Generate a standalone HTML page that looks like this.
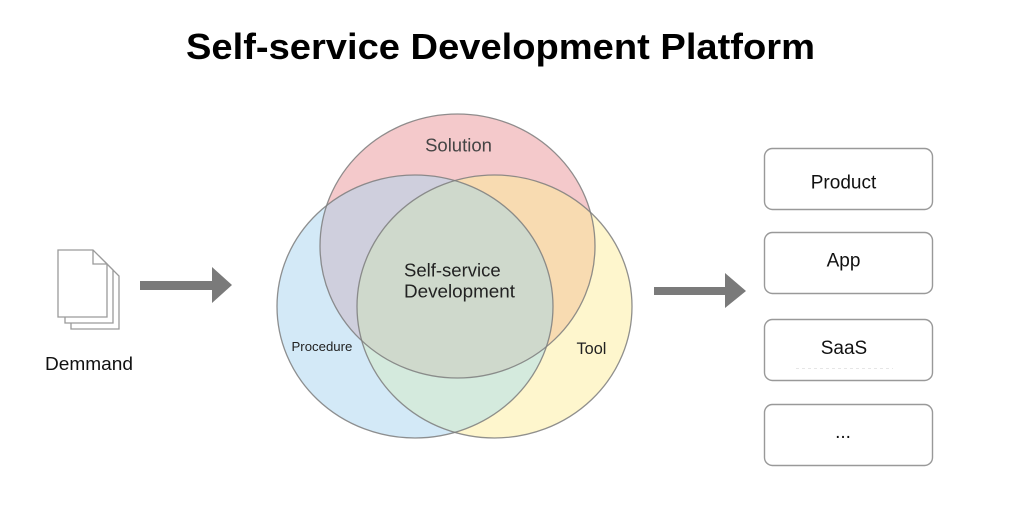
<!DOCTYPE html>
<html>
<head>
<meta charset="utf-8">
<style>
html,body{margin:0;padding:0;background:#fff;}
svg{display:block;}
text{font-family:"Liberation Sans",Arial,sans-serif;}
</style>
</head>
<body>
<svg width="1024" height="526" viewBox="0 0 1024 526" xmlns="http://www.w3.org/2000/svg">
<rect width="1024" height="526" fill="#fff"/>
<defs>
<clipPath id="cA"><ellipse cx="457.5" cy="246" rx="137.5" ry="132"/></clipPath>
<clipPath id="cB"><ellipse cx="415" cy="306.5" rx="138" ry="131.5"/></clipPath>
<clipPath id="cC"><ellipse cx="494.5" cy="306.5" rx="137.5" ry="131.5"/></clipPath>
</defs>

<!-- Title -->
<text x="500.5" y="59" font-size="36" font-weight="bold" text-anchor="middle" fill="#000" textLength="629" lengthAdjust="spacingAndGlyphs">Self-service Development Platform</text>

<!-- Document icon -->
<g fill="#fff" stroke="#9a9a9a" stroke-width="1.3">
<path d="M71,262 H105 L119,276 V329 H71 Z"/>
<path d="M65,256 H99 L113,270 V323 H65 Z"/>
<path d="M58,250 H93 L107,264 V317 H58 Z"/>
<path d="M93,250 V264 H107" fill="none"/>
</g>
<text x="45" y="370" font-size="18" fill="#111" textLength="88" lengthAdjust="spacingAndGlyphs">Demmand</text>

<!-- Left arrow -->
<path d="M140,281 H212 V267 L232,285 L212,303 V290 H140 Z" fill="#7a7a7a"/>

<!-- Venn -->
<ellipse cx="457.5" cy="246" rx="137.5" ry="132" fill="#f4c9cb"/>
<ellipse cx="415" cy="306.5" rx="138" ry="131.5" fill="#d3e9f7"/>
<ellipse cx="494.5" cy="306.5" rx="137.5" ry="131.5" fill="#fef6cd"/>
<ellipse cx="415" cy="306.5" rx="138" ry="131.5" fill="#cfcfdd" clip-path="url(#cA)"/>
<ellipse cx="494.5" cy="306.5" rx="137.5" ry="131.5" fill="#f8dbb1" clip-path="url(#cA)"/>
<ellipse cx="494.5" cy="306.5" rx="137.5" ry="131.5" fill="#d4eadd" clip-path="url(#cB)"/>
<g clip-path="url(#cA)">
<ellipse cx="494.5" cy="306.5" rx="137.5" ry="131.5" fill="#cfd9cc" clip-path="url(#cB)"/>
</g>
<g fill="none" stroke="#7d7d7d" stroke-width="1.3" stroke-opacity="0.85">
<ellipse cx="457.5" cy="246" rx="137.5" ry="132"/>
<ellipse cx="415" cy="306.5" rx="138" ry="131.5"/>
<ellipse cx="494.5" cy="306.5" rx="137.5" ry="131.5"/>
</g>

<text x="458.5" y="151.5" font-size="18.5" text-anchor="middle" fill="#444">Solution</text>
<text x="404" y="276.5" font-size="18.5" fill="#222">Self-service</text>
<text x="404" y="297.5" font-size="18.5" fill="#222" textLength="111" lengthAdjust="spacingAndGlyphs">Development</text>
<text x="291.5" y="351" font-size="13.2" fill="#222">Procedure</text>
<text x="576.5" y="354" font-size="16.3" fill="#222">Tool</text>

<!-- Right arrow -->
<path d="M654,287 H725 V273 L746,291 L725,308 V295 H654 Z" fill="#7a7a7a"/>

<!-- Boxes -->
<g fill="#fff" stroke="#999" stroke-width="1.4">
<rect x="764.5" y="148.5" width="168" height="61" rx="8"/>
<rect x="764.5" y="232.5" width="168" height="61" rx="8"/>
<rect x="764.5" y="319.5" width="168" height="61" rx="8"/>
<rect x="764.5" y="404.5" width="168" height="61" rx="8"/>
</g>
<line x1="796" y1="368.5" x2="893" y2="368.5" stroke="#e6e6e6" stroke-width="1" stroke-dasharray="3,3"/>
<g font-size="19" fill="#111" text-anchor="middle">
<text x="843.5" y="188.5">Product</text>
<text x="843.5" y="266.5">App</text>
<text x="844" y="354">SaaS</text>
<text x="843" y="438">...</text>
</g>
</svg>
</body>
</html>
